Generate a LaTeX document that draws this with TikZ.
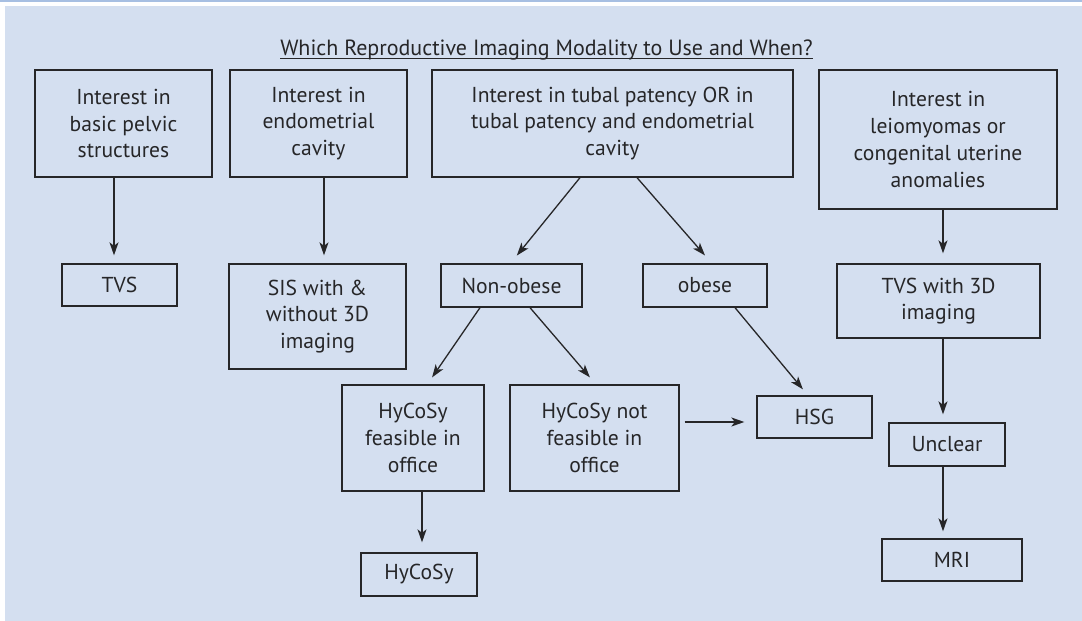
\documentclass[tikz,border=0pt]{standalone}
\usepackage{fontspec}
\setmainfont{PT Sans}
\usetikzlibrary{arrows.meta,calc}
\definecolor{bgblue}{RGB}{212,223,240}
\definecolor{topline}{RGB}{167,191,226}
\definecolor{ink}{RGB}{38,38,40}
\tikzset{
  box/.style={draw=ink, line width=1.3pt, inner sep=0pt, align=center, text=ink,
    font=\fontsize{21.6}{26.7}\selectfont},
  arr/.style={draw=ink, line width=1.3pt, -{Stealth[length=13pt,width=9pt,inset=3.5pt]}},
}
\begin{document}
\begin{tikzpicture}[x=1pt,y=-1pt]
\useasboundingbox (0,0) rectangle (1082,621);
\fill[bgblue] (5,6) rectangle (1082,621);
\draw[topline, line width=1.5pt] (0,0.75) -- (1082,0.75);

\node[anchor=base, inner xsep=0pt, text=ink, font=\fontsize{22}{26}\selectfont] (title) at (546.5,55)
  {Which Reproductive Imaging Modality to Use and When?};
\draw[ink, line width=1pt] ([yshift=-3pt]title.base west) -- ([yshift=-3pt]title.base east);

\node[box, minimum width=177pt, minimum height=107pt] (b1) at (123.5,123.5) {Interest in\\basic pelvic\\structures};
\node[box, minimum width=177pt, minimum height=107pt] (b2) at (318.5,123.5) {Interest in\\endometrial\\cavity};
\node[box, minimum width=361pt, minimum height=107pt] (b3) at (612.5,123.5) {Interest in tubal patency OR in\\tubal patency and endometrial\\cavity};
\node[box, minimum width=238pt, minimum height=139pt] (b4) at (938,139.5) {Interest in\\leiomyomas or\\congenital uterine\\anomalies};

\node[box, minimum width=115pt, minimum height=42pt] (tvs) at (119.5,285) {TVS};
\node[box, minimum width=177pt, minimum height=105pt] (sis) at (317.5,316.5) {SIS with \&\\without 3D\\imaging};
\node[box, minimum width=141pt, minimum height=43pt] (non) at (511.5,285.5) {Non-obese};
\node[box, minimum width=124pt, minimum height=43pt] (obese) at (705,285.5) {obese};
\node[box, minimum width=203pt, minimum height=74pt] (tvs3d) at (938.5,301) {TVS with 3D\\imaging};

\node[box, minimum width=142pt, minimum height=106pt] (hf) at (413,438) {HyCoSy\\feasible in\\office};
\node[box, minimum width=169pt, minimum height=106pt] (hnf) at (594.5,438) {HyCoSy not\\feasible in\\office};
\node[box, minimum width=115pt, minimum height=42pt] (hsg) at (814.5,417) {HSG};
\node[box, minimum width=116pt, minimum height=43pt] (hy) at (419,574.5) {HyCoSy};
\node[box, minimum width=116pt, minimum height=43pt] (unc) at (947,444.5) {Unclear};
\node[box, minimum width=140pt, minimum height=42pt] (mri) at (952,560) {MRI};

% connectors
\draw[arr, shorten >=8pt] ([xshift=-9.5pt]b1.south) -- ([xshift=-5.5pt]tvs.north);
\draw[arr, shorten >=8pt] ([xshift=5.5pt]b2.south) -- ([xshift=6.5pt]sis.north);
\draw[arr, shorten >=10pt] ([xshift=-32.5pt]b3.south) -- ([xshift=-1pt]non.north);
\draw[arr, shorten >=10.5pt] ([xshift=24.5pt]b3.south) -- ([xshift=6.9pt]obese.north);
\draw[arr, shorten >=10pt] ([xshift=5pt]b4.south) -- ([xshift=4.5pt]tvs3d.north);
\draw[arr, shorten >=8pt] ([xshift=4.5pt]tvs3d.south) -- ([xshift=-4pt]unc.north);
\draw[arr, shorten >=7pt] ([xshift=-4pt]unc.south) -- ([xshift=-9pt]mri.north);
\draw[arr, shorten >=8.4pt] ([xshift=-31.5pt]non.south) -- ([xshift=14.3pt]hf.north);
\draw[arr, shorten >=9.2pt] ([xshift=18.5pt]non.south) -- ([xshift=1.4pt]hnf.north);
\draw[arr, shorten >=7.8pt] ([xshift=30pt]obese.south) -- ([xshift=-6.6pt]hsg.north);
\draw[arr, shorten <=5pt, shorten >=12pt] ([yshift=16pt]hnf.east) -- ([yshift=-5pt]hsg.west);
\draw[arr, shorten >=10pt] ([xshift=9pt]hf.south) -- ([xshift=3pt]hy.north);
\end{tikzpicture}
\end{document}
